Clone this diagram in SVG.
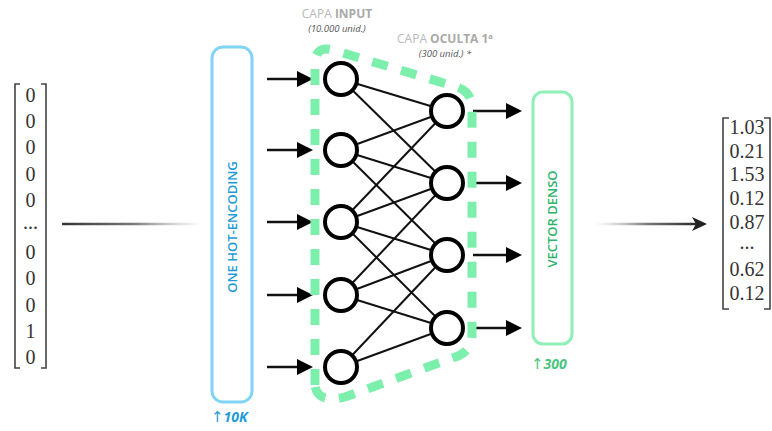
<svg xmlns="http://www.w3.org/2000/svg" width="772" height="431" viewBox="0 0 772 431">
<defs>
<style>
.mat{font-family:"Liberation Serif","DejaVu Serif",serif;font-size:20px;fill:#333;text-anchor:middle}
.brk{fill:none;stroke:#444;stroke-width:1.6}
.title{font-family:"Open Sans","Noto Sans",sans-serif;font-size:12px;text-anchor:middle;fill:#b8b8b8}
.title .b{font-weight:700;fill:#a9a9a9}
.sub{font-family:"Open Sans","Noto Sans",sans-serif;font-size:9.5px;font-style:italic;fill:#555;text-anchor:middle}
.edge{stroke:#111;stroke-width:2}
.arr{stroke:#111;stroke-width:2.5;marker-end:url(#tri)}
.node{fill:#fff;stroke:#000;stroke-width:4}
.lbl{font-family:"Open Sans","Noto Sans",sans-serif;font-size:13px;font-weight:600;text-anchor:middle}
.dim{font-family:"Open Sans","Noto Sans",sans-serif;font-size:14px;font-weight:700;font-style:italic}
.up{font-family:"DejaVu Sans",sans-serif;font-style:normal;font-weight:400;font-size:15px}
</style>
<marker id="tri" markerUnits="userSpaceOnUse" markerWidth="16" markerHeight="16" refX="2" refY="8" orient="auto">
<path d="M0,0 L16,8 L0,16 z" fill="#000"/>
</marker>
<marker id="barb" markerUnits="userSpaceOnUse" markerWidth="16" markerHeight="14" refX="12" refY="7" orient="auto">
<path d="M0,0 L15,7 L0,14 L4,7 z" fill="#222"/>
</marker>
<linearGradient id="gl" gradientUnits="userSpaceOnUse" x1="62" y1="0" x2="203" y2="0">
<stop offset="0" stop-color="#333"/>
<stop offset="0.5" stop-color="#555" stop-opacity="0.8"/>
<stop offset="1" stop-color="#999" stop-opacity="0"/>
</linearGradient>
<linearGradient id="gr" gradientUnits="userSpaceOnUse" x1="595" y1="0" x2="700" y2="0">
<stop offset="0" stop-color="#999" stop-opacity="0"/>
<stop offset="0.5" stop-color="#555" stop-opacity="0.8"/>
<stop offset="1" stop-color="#222"/>
</linearGradient>
</defs>
<rect width="772" height="431" fill="#fff"/>

<g id="input-vector">
<path class="brk" d="M20,84 H15 V368 H20 M41,84 H46 V368 H41"/>
<text class="mat" x="30.5" y="102">0</text>
<text class="mat" x="30.5" y="128.2">0</text>
<text class="mat" x="30.5" y="154.4">0</text>
<text class="mat" x="30.5" y="180.6">0</text>
<text class="mat" x="30.5" y="206.8">0</text>
<text class="mat" x="30.5" y="229">...</text>
<text class="mat" x="30.5" y="259.2">0</text>
<text class="mat" x="30.5" y="285.4">0</text>
<text class="mat" x="30.5" y="311.6">0</text>
<text class="mat" x="30.5" y="337.8">1</text>
<text class="mat" x="30.5" y="364">0</text>
</g>

<g id="output-vector">
<path class="brk" d="M729,118 H723 V309 H729 M764,118 H770 V309 H764"/>
<text class="mat" x="747" y="134">1.03</text>
<text class="mat" x="747" y="157.7">0.21</text>
<text class="mat" x="747" y="181.4">1.53</text>
<text class="mat" x="747" y="205">0.12</text>
<text class="mat" x="747" y="228.8">0.87</text>
<text class="mat" x="747" y="249">...</text>
<text class="mat" x="747" y="276">0.62</text>
<text class="mat" x="747" y="300">0.12</text>
</g>

<g id="titles">
<text class="title" x="337" y="18">CAPA <tspan class="b">INPUT</tspan></text>
<text class="sub" x="337" y="32">(10.000 unid.)</text>
<text class="title" x="445" y="43">CAPA <tspan class="b">OCULTA 1ª</tspan></text>
<text class="sub" x="445" y="57">(300 unid.) *</text>
</g>

<g id="onehot">
<rect x="212" y="47" width="40" height="355" rx="11" fill="#fff" stroke="#80d4f6" stroke-width="3"/>
<text class="lbl" fill="#1e9bd7" transform="translate(236.5,227) rotate(-90)">ONE HOT-ENCODING</text>
<text class="dim" x="211" y="422" fill="#1e9bd7"><tspan class="up">↑</tspan>10K</text>
</g>

<g id="dense">
<rect x="533" y="92" width="39" height="252" rx="10" fill="#fff" stroke="#8ef0b6" stroke-width="3"/>
<text class="lbl" fill="#2eb46b" transform="translate(557,219) rotate(-90)">VECTOR DENSO</text>
<text class="dim" x="531" y="369" fill="#4cc47e"><tspan class="up">↑</tspan>300</text>
</g>

<g id="connectors">
<line x1="62" y1="224" x2="203" y2="224" stroke="url(#gl)" stroke-width="2.5"/>
<line x1="595" y1="224" x2="704" y2="224" stroke="url(#gr)" stroke-width="2.5" marker-end="url(#barb)"/>
<line class="arr" x1="267" y1="79" x2="299" y2="79"/>
<line class="arr" x1="267" y1="150" x2="299" y2="150"/>
<line class="arr" x1="267" y1="222" x2="299" y2="222"/>
<line class="arr" x1="267" y1="295" x2="299" y2="295"/>
<line class="arr" x1="267" y1="367" x2="299" y2="367"/>
<line class="arr" x1="473" y1="111" x2="508" y2="111"/>
<line class="arr" x1="473" y1="183" x2="508" y2="183"/>
<line class="arr" x1="473" y1="255" x2="508" y2="255"/>
<line class="arr" x1="473" y1="328" x2="508" y2="328"/>
<g class="edge">
<line x1="341" y1="79" x2="447" y2="111"/>
<line x1="341" y1="79" x2="447" y2="183"/>
<line x1="341" y1="150" x2="447" y2="111"/>
<line x1="341" y1="150" x2="447" y2="183"/>
<line x1="341" y1="150" x2="447" y2="255"/>
<line x1="341" y1="222" x2="447" y2="111"/>
<line x1="341" y1="222" x2="447" y2="183"/>
<line x1="341" y1="222" x2="447" y2="255"/>
<line x1="341" y1="222" x2="447" y2="328"/>
<line x1="341" y1="295" x2="447" y2="183"/>
<line x1="341" y1="295" x2="447" y2="255"/>
<line x1="341" y1="295" x2="447" y2="328"/>
<line x1="341" y1="367" x2="447" y2="255"/>
<line x1="341" y1="367" x2="447" y2="328"/>
</g>
</g>

<g id="layer-outline">
<path d="M315,385 L315,64 Q315,45 333,50 L457,87 Q472,92 472,108 L472,335 Q472,350 458,356 L345,397 Q317,404 315,385 Z" fill="none" stroke="#7cefad" stroke-width="9" stroke-dasharray="16 14" stroke-linejoin="round"/>
</g>

<g id="input-layer">
<circle id="i1" class="node" cx="341" cy="79" r="16"/>
<circle id="i2" class="node" cx="341" cy="150" r="16"/>
<circle id="i3" class="node" cx="341" cy="222" r="16"/>
<circle id="i4" class="node" cx="341" cy="295" r="16"/>
<circle id="i5" class="node" cx="341" cy="367" r="16"/>
</g>
<g id="hidden-layer">
<circle id="h1" class="node" cx="447" cy="111" r="16"/>
<circle id="h2" class="node" cx="447" cy="183" r="16"/>
<circle id="h3" class="node" cx="447" cy="255" r="16"/>
<circle id="h4" class="node" cx="447" cy="328" r="16"/>
</g>
</svg>
